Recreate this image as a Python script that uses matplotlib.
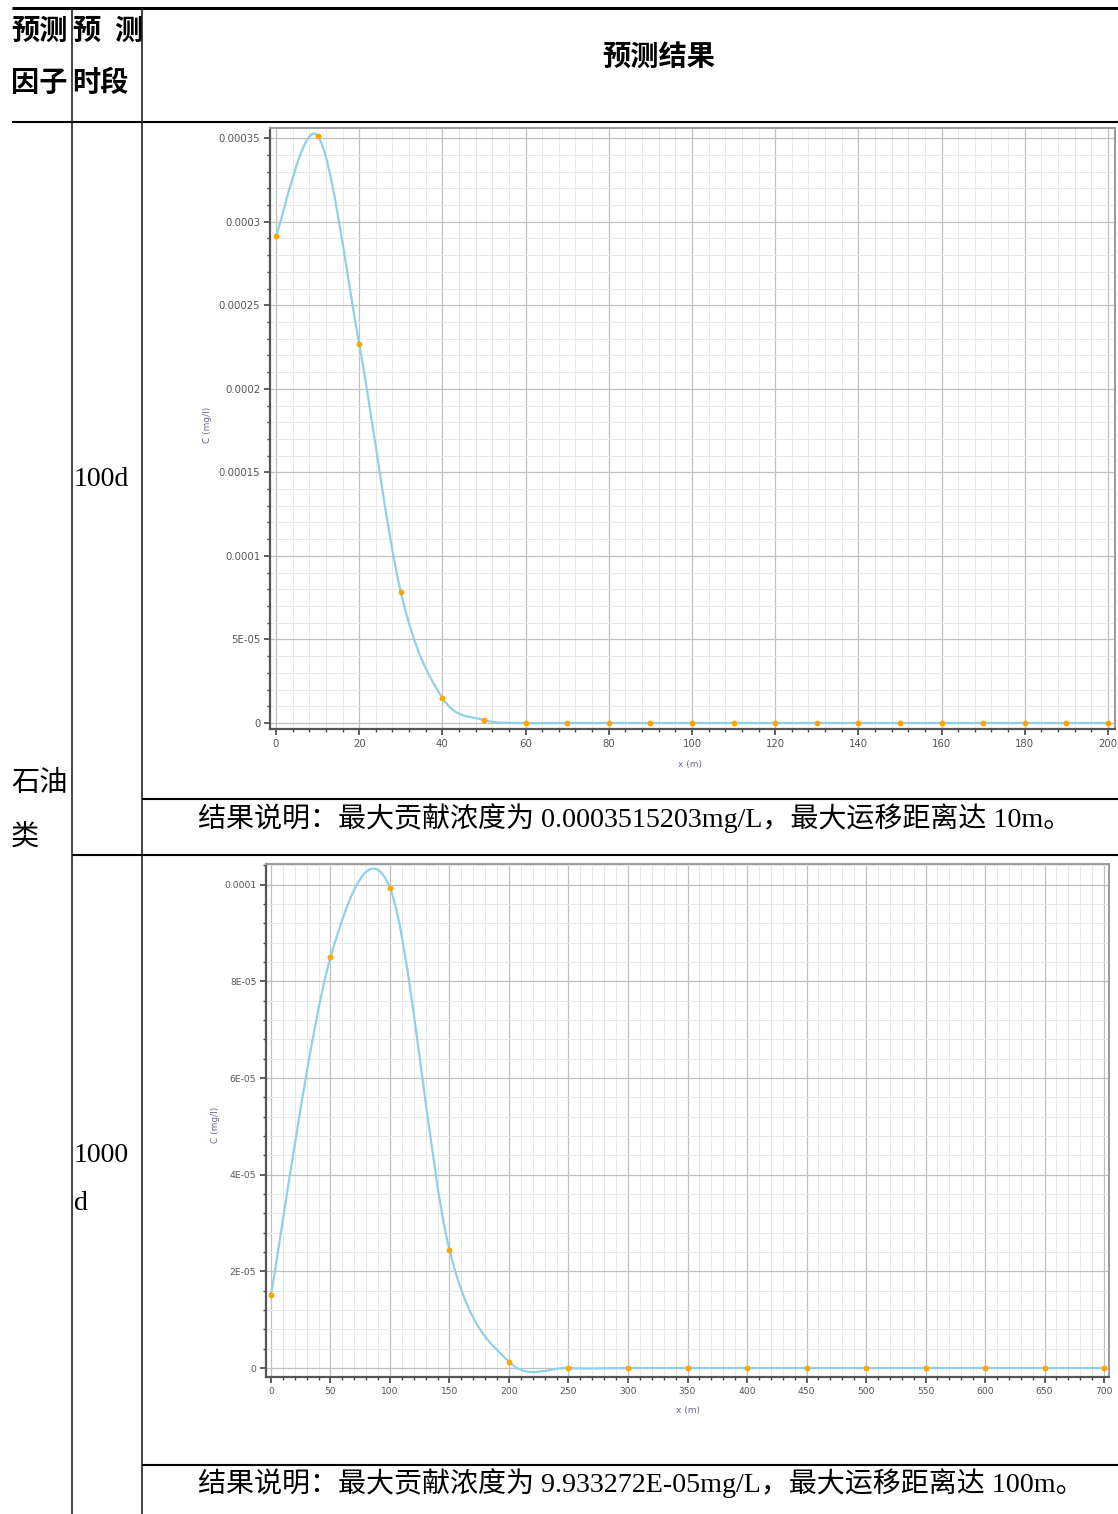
import matplotlib
matplotlib.use("Agg")
import matplotlib.pyplot as plt
from matplotlib.lines import Line2D
from matplotlib.path import Path
from matplotlib.patches import PathPatch
from matplotlib.ticker import FixedLocator, FixedFormatter, MultipleLocator

# ---------------- data ----------------
# 100 d prediction
x_100d = [0, 10, 20, 30, 40, 50, 60, 70, 80, 90, 100, 110, 120, 130, 140, 150,
          160, 170, 180, 190, 200]
c_100d = [2.916e-4, 3.515203e-4, 2.270e-4, 7.84e-5, 1.50e-5, 1.8e-6, 0, 0, 0, 0,
          0, 0, 0, 0, 0, 0, 0, 0, 0, 0, 0]
xticks_100d = [0, 20, 40, 60, 80, 100, 120, 140, 160, 180, 200]
yticks_100d = [0, 5e-5, 1e-4, 1.5e-4, 2e-4, 2.5e-4, 3e-4, 3.5e-4]
ylabels_100d = ["0", "5E-05", "0.0001", "0.00015", "0.0002", "0.00025", "0.0003", "0.00035"]

# 1000 d prediction
x_1000d = [0, 50, 100, 150, 200, 250, 300, 350, 400, 450, 500, 550, 600, 650, 700]
c_1000d = [1.52e-5, 8.50e-5, 9.933272e-5, 2.44e-5, 1.3e-6, 0, 0, 0, 0, 0, 0, 0, 0, 0, 0]
xticks_1000d = [0, 50, 100, 150, 200, 250, 300, 350, 400, 450, 500, 550, 600, 650, 700]
yticks_1000d = [0, 2e-5, 4e-5, 6e-5, 8e-5, 1e-4]
ylabels_1000d = ["0", "2E-05", "4E-05", "6E-05", "8E-05", "0.0001"]

header_factor = ["预测", "因子"]
header_period = ["预", "测", "时段"]
header_result = "预测结果"
factor_name = ["石油", "类"]
caption_100d = "结果说明：最大贡献浓度为 0.0003515203mg/L，最大运移距离达 10m。"
caption_1000d = "结果说明：最大贡献浓度为 9.933272E-05mg/L，最大运移距离达 100m。"

# ---------------- figure ----------------
W, H = 1118, 1514
fig = plt.figure(figsize=(W / 100, H / 100), dpi=100)
fig.patch.set_facecolor("white")

def fx(x):
    return x / W

def fy(y):
    return 1 - y / H

MIXED = ["Liberation Serif", "Noto Sans CJK SC"]
CJK = ["Noto Sans CJK SC", "DejaVu Sans"]
FS = 20.3

def hline(y, x0, x1, lw=1.4, color="black"):
    fig.add_artist(Line2D([fx(x0), fx(x1)], [fy(y), fy(y)], transform=fig.transFigure,
                          color=color, lw=lw, solid_capstyle="butt"))

def vline(x, y0, y1, lw=1.2, color="#222222"):
    fig.add_artist(Line2D([fx(x), fx(x)], [fy(y0), fy(y1)], transform=fig.transFigure,
                          color=color, lw=lw, solid_capstyle="butt"))

# table rules
hline(8, 12, 1118, lw=2.2)
hline(122, 12, 1118, lw=1.5)
vline(72, 8, 1514)
vline(142, 8, 1514)
hline(799, 142, 1118, lw=1.5)
hline(855, 72, 1118, lw=1.5)
hline(1465, 142, 1118, lw=1.5)

# header texts
fig.text(fx(11), fy(31), header_factor[0], fontsize=FS, fontweight="bold", family=CJK,
         ha="left", va="center")
fig.text(fx(11), fy(83), header_factor[1], fontsize=FS, fontweight="bold", family=CJK,
         ha="left", va="center")
fig.text(fx(72), fy(31), header_period[0], fontsize=FS, fontweight="bold", family=CJK,
         ha="left", va="center")
fig.text(fx(142), fy(31), header_period[1], fontsize=FS, fontweight="bold", family=CJK,
         ha="right", va="center")
fig.text(fx(72), fy(83), header_period[2], fontsize=FS, fontweight="bold", family=CJK,
         ha="left", va="center")
fig.text(fx(659), fy(57), header_result, fontsize=FS, fontweight="bold", family=CJK,
         ha="center", va="center")

# left column texts
fig.text(fx(11), fy(783), factor_name[0], fontsize=FS, family=CJK, ha="left", va="center")
fig.text(fx(11), fy(838), factor_name[1], fontsize=FS, family=CJK, ha="left", va="center")
fig.text(fx(74), fy(480), "100d", fontsize=20, family=MIXED, ha="left", va="center")
fig.text(fx(74), fy(1155), "1000", fontsize=20, family=MIXED, ha="left", va="center")
fig.text(fx(74), fy(1203), "d", fontsize=20, family=MIXED, ha="left", va="center")

# captions
fig.text(fx(198), fy(818), caption_100d, fontsize=20.2, family=MIXED, ha="left", va="center")
fig.text(fx(198), fy(1483), caption_1000d, fontsize=20.2, family=MIXED, ha="left", va="center")


def smooth_path(xs, ys):
    """Cardinal (Catmull-Rom) spline through the points as cubic Bezier segments."""
    n = len(xs)
    verts = [(xs[0], ys[0])]
    codes = [Path.MOVETO]
    for i in range(n - 1):
        i0 = max(i - 1, 0)
        i3 = min(i + 2, n - 1)
        c1 = (xs[i] + (xs[i + 1] - xs[i0]) / 6, ys[i] + (ys[i + 1] - ys[i0]) / 6)
        c2 = (xs[i + 1] - (xs[i3] - xs[i]) / 6, ys[i + 1] - (ys[i3] - ys[i]) / 6)
        verts += [c1, c2, (xs[i + 1], ys[i + 1])]
        codes += [Path.CURVE4] * 3
    return Path(verts, codes)


def make_chart(box, xs, cs, xlim, ylim, xticks, xminor, yticks, ylabels, yminor,
               tick_fs, xlabel_pos, ylabel_pos):
    left, top, right, bottom = box
    ax = fig.add_axes([fx(left), fy(bottom), (right - left) / W, (bottom - top) / H])
    ax.set_xlim(*xlim)
    ax.set_ylim(*ylim)
    ax.xaxis.set_major_locator(FixedLocator(xticks))
    ax.xaxis.set_major_formatter(FixedFormatter([str(v) for v in xticks]))
    ax.xaxis.set_minor_locator(MultipleLocator(xminor))
    ax.yaxis.set_major_locator(FixedLocator(yticks))
    ax.yaxis.set_major_formatter(FixedFormatter(ylabels))
    ax.yaxis.set_minor_locator(MultipleLocator(yminor))

    ax.grid(which="major", color="#c0c0c0", lw=0.9)
    ax.grid(which="minor", color="#e8e8e8", lw=0.7)
    ax.set_axisbelow(True)

    for side in ("left", "bottom"):
        ax.spines[side].set_color("#555555")
        ax.spines[side].set_linewidth(1.6)
    for side in ("top", "right"):
        ax.spines[side].set_color("#9a9a9a")
        ax.spines[side].set_linewidth(1.4)

    ax.tick_params(which="major", direction="out", length=4, width=1.2, color="#444444",
                   labelsize=tick_fs, labelcolor="#555555", pad=3)
    ax.tick_params(which="minor", direction="out", length=2.5, width=1.0, color="#444444")

    ax.add_patch(PathPatch(smooth_path(xs, cs), fill=False, edgecolor="#8fd0ea", lw=1.6,
                           zorder=3))
    ax.plot(xs, cs, "o", color="#ffa500", markersize=4.2, markeredgewidth=0, zorder=4,
            clip_on=False)

    fig.text(fx(xlabel_pos[0]), fy(xlabel_pos[1]), "x (m)", fontsize=6.5, color="#6e6490",
             ha="center", va="center")
    fig.text(fx(ylabel_pos[0]), fy(ylabel_pos[1]), "C (mg/l)", fontsize=6.5, color="#6e6490",
             ha="center", va="center", rotation=90)
    return ax


make_chart((270, 128, 1115, 729), x_100d, c_100d,
           (-1.44, 201.7), (-3.6e-6, 3.561e-4),
           xticks_100d, 4, yticks_100d, ylabels_100d, 1e-5,
           7.3, (690, 765), (208, 425))

make_chart((266, 864, 1109, 1377), x_1000d, c_1000d,
           (-4.2, 704.2), (-1.86e-6, 1.043e-4),
           xticks_1000d, 10, yticks_1000d, ylabels_1000d, 4e-6,
           6.6, (688, 1410), (216, 1125))

fig.savefig("out.png", dpi=100, facecolor="white")
